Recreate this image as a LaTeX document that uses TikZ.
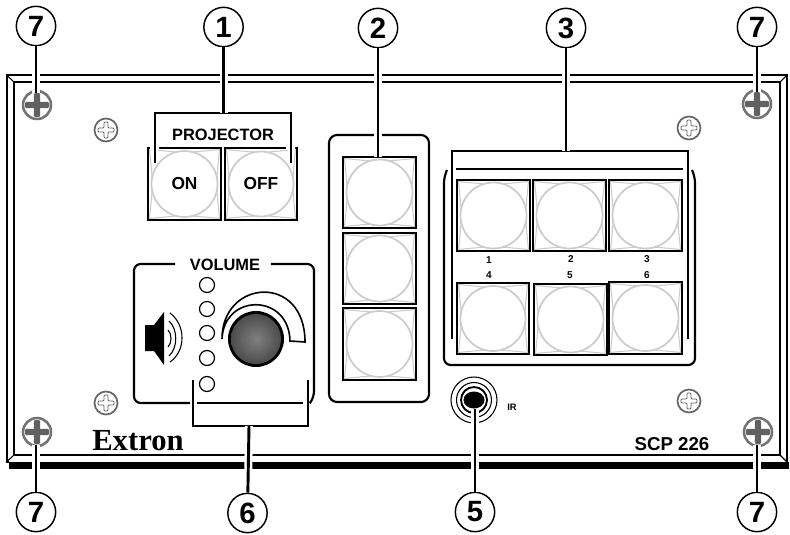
\documentclass[tikz,border=0pt]{standalone}
\usepackage{fontspec}
\setmainfont{Liberation Sans}
\newfontfamily\serifbrand{Liberation Serif}
\tikzset{
 callout/.style={draw=black,line width=1.1pt,circle,fill=white,minimum size=29.5pt,inner sep=0pt,font=\fontsize{22}{22}\selectfont\bfseries},
 leader/.style={draw=black,line width=2.2pt,preaction={draw=white,line width=6pt}},
 bracketline/.style={draw=black,line width=2.1pt},
 frameline/.style={draw=black,line width=1.6pt},
 panelline/.style={draw=black,line width=1.5pt},
 thinline/.style={draw=black,line width=.8pt},
 btnbox/.style={draw=black,line width=1.9pt},
 btnface/.style={draw=black!20,line width=1.3pt},
 lab/.style={inner sep=0pt,font=\fontsize{12.3}{12.3}\selectfont\bfseries},
 num/.style={inner sep=0pt,font=\fontsize{7.5}{7.5}\selectfont\bfseries},
 led/.style={draw=black,line width=.9pt,fill=white},
}
\newcommand{\Btn}[5]{%
 \coordinate (#1-c) at ({(#2+#4)/2},{(#3+#5)/2});
 \draw[btnbox,fill=white] (#2,#3) rectangle (#4,#5);
 \draw[draw=black!20,line width=.8pt] (#2+1.5,#3+1.5) .. controls ({(#2+#4)/2},#3+5) .. (#4-1.5,#3+1.5)
   .. controls (#4-5,{(#3+#5)/2}) .. (#4-1.5,#5-1.5)
   .. controls ({(#2+#4)/2},#5-5) .. (#2+1.5,#5-1.5)
   .. controls (#2+5,{(#3+#5)/2}) .. cycle;
 \draw[btnface,fill=white] (#1-c) circle[radius={(#4-#2)/2-3.5}];
}
\newcommand{\BigScrew}[2]{%
 \draw[draw=black!55,line width=1.9pt,fill=white] (#1,#2) circle[radius=14];
 \fill[black!62,rounded corners=1] (#1-12,#2-3.2) rectangle (#1+12,#2+3.2);
 \fill[black!62,rounded corners=1] (#1-3.2,#2-12) rectangle (#1+3.2,#2+12);
}
\newcommand{\SmallScrew}[2]{%
 \draw[draw=black!60,line width=1.3pt,fill=white] (#1,#2) circle[radius=11.5];
 \draw[draw=black!60,line width=.7pt,rounded corners=.8] (#1-2,#2-8) -- (#1+2,#2-8) -- (#1+2,#2-2) -- (#1+8,#2-2) -- (#1+8,#2+2) -- (#1+2,#2+2) -- (#1+2,#2+8) -- (#1-2,#2+8) -- (#1-2,#2+2) -- (#1-8,#2+2) -- (#1-8,#2-2) -- (#1-2,#2-2) -- cycle;
}
\begin{document}
\begin{tikzpicture}[x=.75pt,y=-.75pt]
\useasboundingbox (0,0) rectangle (790,535);
\fill[white] (0,0) rectangle (790,535);
% panel
\draw[panelline] (787,462) -- (787,75) -- (6.5,75) -- (6.5,462) -- (9,462);
\draw[panelline] (14,455) -- (14,82) -- (780,82) -- (780,455) -- cycle;
\draw[thinline] (6.5,75) -- (14,82) (787,75) -- (780,82) (6.5,462) -- (14,455) (787,462) -- (780,455);
\fill[black] (9,462) rectangle (789,468.5);
% screws
\BigScrew{37}{105}\BigScrew{757}{104}\BigScrew{37}{432}\BigScrew{758}{432}
\SmallScrew{106}{130}\SmallScrew{106}{403}\SmallScrew{689}{128}\SmallScrew{689}{401}
% projector
\Btn{on}{148}{148}{221}{220}
\Btn{off}{225}{148}{297}{220}
\node[lab,font=\fontsize{13}{13}\selectfont\bfseries] (ontxt) at (on-c) {ON};
\node[lab,font=\fontsize{13}{13}\selectfont\bfseries] (offtxt) at (off-c) {OFF};
\node[lab] (projtxt) at (223,135) {PROJECTOR};
\coordinate (b1l) at (155,163);\coordinate (b1r) at (291,163);\coordinate (b1t) at (223.5,113);
\fill[white] (150,146.5) rectangle (159,150) (286,146.5) rectangle (295,150);
\draw[draw=white,line width=5pt] (155,150) -- (b1l) (291,150) -- (b1r);
\draw[bracketline] (b1l) -- (155,113) -- (291,113) -- (b1r);
% column of buttons
\draw[frameline,rounded corners=6] (329,135) rectangle (429,402);
\Btn{a}{343}{157}{416}{228}
\Btn{b}{343}{233}{416}{304}
\Btn{c}{343}{308}{416}{380}
% six buttons frame
\draw[frameline,rounded corners=5] (447,170) -- (444,176) -- (444,365) -- (695,365) -- (695,176) -- (692,170);
\draw[bracketline] (456,169) -- (683,169);
\Btn{s1}{457}{180}{530}{251}
\Btn{s2}{533}{180}{606}{251}
\Btn{s3}{609}{180}{682}{251}
\Btn{s4}{457}{283}{529}{354}
\Btn{s5}{534}{284}{607}{355}
\Btn{s6}{609}{282}{682}{354}
\node[num] (n1) at (489,260) {1};
\node[num] (n2) at (571,259) {2};
\node[num] (n3) at (647,259) {3};
\node[num] (n4) at (489,275) {4};
\node[num] (n5) at (570,275) {5};
\node[num] (n6) at (647,275) {6};
\coordinate (b3t) at (566,151);
\draw[bracketline] (452,339) -- (452,151) -- (688,151) -- (688,339);
% volume
\draw[frameline,rounded corners=5] (175,264) -- (134,264) -- (134,403) -- (190,403);
\draw[frameline] (197,403) -- (303,403);
\draw[frameline,rounded corners=5] (271,264) -- (314,264) -- (314,398) -- (310,403);
\node[lab] (voltxt) at (225,264.5) {VOLUME};
\foreach \ly in {285,309,333,358,384} \draw[led] (207,\ly) circle[radius=7.5];
\coordinate (b6t) at (249,426);
\draw[bracketline] (193,380) -- (193,426) -- (308,426) -- (308,380);
% speaker
\fill[black] (145,325) -- (154,325) -- (164,312) -- (164,365) -- (154,351) -- (145,351) -- cycle;
\draw[thinline] (168,330) .. controls (172,334) and (172,343) .. (168,347);
\draw[thinline] (169,321) .. controls (178,329) and (178,348) .. (169,356);
\draw[thinline] (170,313) .. controls (186,325) and (186,351) .. (170,362);
% knob
\draw[draw=black,line width=1.2pt,fill=white] (222,339) .. controls (222,279) and (305,273) .. (305,342) -- (290,341) .. controls (289,293) and (224,293) .. (222,339) -- cycle;
\fill[black] (256,339) circle[radius=28];
\shade[inner color=black!50,outer color=black!70] (256,339) circle[radius=25];
% IR
\draw[thinline] (474,400) circle[radius=23];
\draw[thinline] (474,400) circle[radius=17.5];
\draw[draw=black,line width=1.4pt] (474,400) circle[radius=13];
\fill[black] (474,400) ellipse[x radius=10.5,y radius=8.5];
\node[num,font=\fontsize{7}{7}\selectfont\bfseries] (irtxt) at (512,407) {IR};
\coordinate (jack) at (475,409);
% brand
\node[inner sep=0pt,font=\serifbrand\fontsize{23}{23}\selectfont\bfseries] (brand) at (138,441) {Extron};
\node[inner sep=0pt,font=\fontsize{14}{14}\selectfont\bfseries] (model) at (672,444) {SCP 226};
% callouts
\node[callout] (c7a) at (36,26) {7};
\node[callout] (c1) at (223.5,27) {1};
\node[callout] (c2) at (378,28) {2};
\node[callout] (c3) at (566,28) {3};
\node[callout] (c7b) at (757,27) {7};
\node[callout] (c7c) at (36,512) {7};
\node[callout] (c6) at (247.5,513) {6};
\node[callout] (c5) at (475,512) {5};
\node[callout] (c7d) at (757,512) {7};
\coordinate (s7a) at (36,93);\coordinate (s7b) at (757,92);\coordinate (s7c) at (36,445);\coordinate (s7d) at (757,445);
\coordinate (a-top) at (378,157);
\draw[leader] (c7a) -- (s7a);
\draw[leader] (c1) -- (b1t);
\draw[leader] (c2) -- (a-top);
\draw[leader] (c3) -- (b3t);
\draw[leader] (c7b) -- (s7b);
\draw[leader] (c7c) -- (s7c);
\draw[leader] (c6) -- (b6t);
\draw[leader] (c5) -- (jack);
\draw[leader] (c7d) -- (s7d);
\end{tikzpicture}
\end{document}
